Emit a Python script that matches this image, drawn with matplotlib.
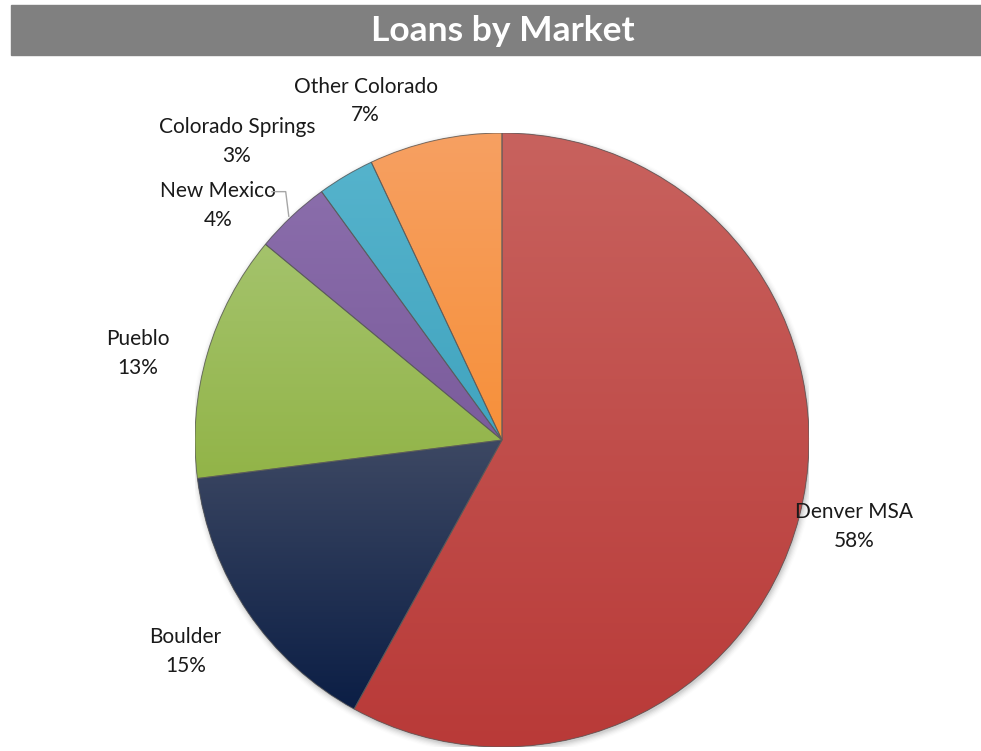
import matplotlib.pyplot as plt
import numpy as np
from matplotlib.colors import LinearSegmentedColormap
from matplotlib.patches import Circle, Rectangle, Wedge

plt.rcParams['font.family'] = ['Lato', 'DejaVu Sans']

markets = ["Denver MSA", "Boulder", "Pueblo", "New Mexico",
           "Colorado Springs", "Other Colorado"]
shares = [58, 15, 13, 4, 3, 7]

# top / bottom shade of each slice
top_colors = ["#c8625e", "#3d4863", "#a4c36c", "#8a6dab", "#55b3cc", "#f6a062"]
bottom_colors = ["#b93a38", "#0b1e45", "#92b448", "#7b5c9c", "#41a4bf", "#f7903a"]

# label placement: angle offset from slice middle (deg) and radius
label_shift = [0.6, -0.4, 2.8, 7.3, 11.0, 9.3]
label_dist = [1.18, 1.24, 1.22, 1.20, 1.30, 1.19]

fig = plt.figure(figsize=(9.81, 7.51), dpi=100)

# title band
fig.patches.append(Rectangle((11 / 981, 1 - 55 / 751), 970 / 981, 50 / 751,
                             transform=fig.transFigure, color="#808080", zorder=0))
fig.text(0.513, 1 - 31 / 751, "Loans by Market", ha="center", va="center",
         color="white", fontsize=25.5, fontweight="bold")

ax = fig.add_axes([195 / 981, 4 / 751, 614 / 981, 614 / 751])
ax.set_xlim(-1, 1)
ax.set_ylim(-1, 1)
ax.set_aspect("equal")
ax.axis("off")

# soft drop shadow under the pie
for i, a in enumerate(np.linspace(0.05, 0.01, 6)):
    ax.add_patch(Circle((0.004, -0.008), 1.0 + 0.004 * i, color="black",
                        alpha=a, lw=0, zorder=0))

wedges, _ = ax.pie(shares, startangle=90, counterclock=False, radius=1.0,
                   colors=bottom_colors,
                   wedgeprops=dict(edgecolor="none", linewidth=0))

for w, c0, c1 in zip(wedges, top_colors, bottom_colors):
    ext = w.get_path().get_extents()
    cmap = LinearSegmentedColormap.from_list("g", [c1, c0])
    grad = np.linspace(0, 1, 256).reshape(-1, 1)
    im = ax.imshow(grad, cmap=cmap, origin="lower", aspect="auto",
                   extent=(ext.x0, ext.x1, ext.y0, ext.y1), zorder=1.5,
                   interpolation="bilinear")
    im.set_clip_path(w)
    ax.add_patch(Wedge(w.center, w.r, w.theta1, w.theta2, fill=False,
                       edgecolor="#5a5a5a", linewidth=0.7, alpha=0.8, zorder=2))
ax.set_xlim(-1, 1)
ax.set_ylim(-1, 1)

for w, name, val, dtheta, dist in zip(wedges, markets, shares, label_shift, label_dist):
    mid = np.deg2rad((w.theta1 + w.theta2) / 2 + dtheta)
    ax.text(dist * np.cos(mid), dist * np.sin(mid), f"{name}\n{val}%",
            ha="center", va="center", fontsize=15, linespacing=1.55,
            color="#1a1a1a", zorder=3, clip_on=False)

# leader line for the small New Mexico slice
nm = wedges[markets.index("New Mexico")]
m = np.deg2rad((nm.theta1 + nm.theta2) / 2)
ex, ey = np.cos(m), np.sin(m)
ax.plot([ex - 0.01, ex - 0.02, ex - 0.065], [ey, ey + 0.08, ey + 0.08],
        color="#a6a6a6", lw=1, zorder=3, clip_on=False)

fig.savefig("out.png", dpi=100)
